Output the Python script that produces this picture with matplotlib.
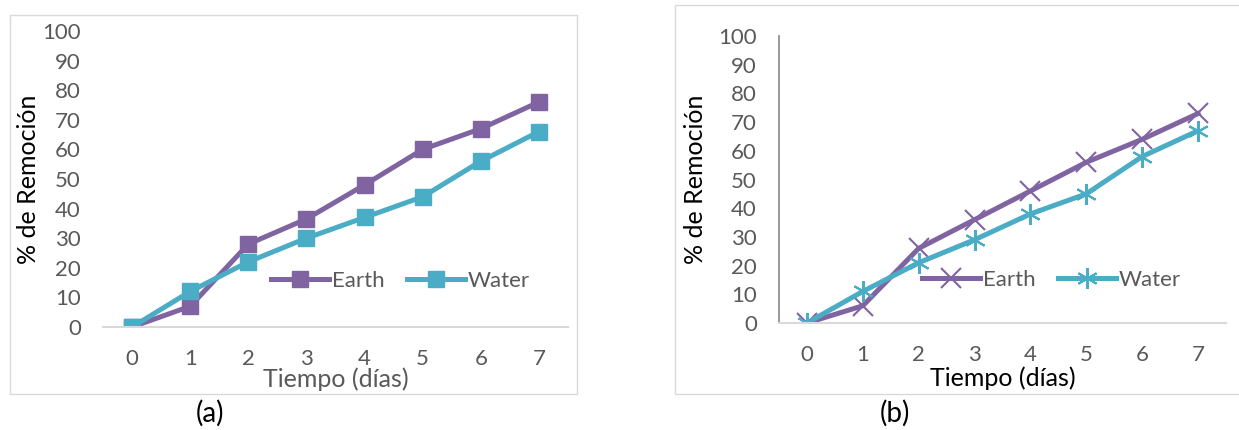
import matplotlib.pyplot as plt
from matplotlib.patches import Rectangle

plt.rcParams['font.family'] = ['Lato', 'DejaVu Sans']

dias = [0, 1, 2, 3, 4, 5, 6, 7]
y_ticks = list(range(0, 101, 10))

# panel (a)
earth_a = [0, 7, 28, 36.5, 48, 60, 67, 76]
water_a = [0, 12, 22, 30, 37, 44, 56, 66]
# panel (b)
earth_b = [0, 6, 26, 36, 46, 56, 64, 73]
water_b = [0, 11, 21, 29, 38, 45, 58, 67]

PURPLE = '#8064A2'
TEAL = '#4BACC6'
GRAY_TXT = '#595959'

fig = plt.figure(figsize=(12.39, 4.30), dpi=100)
W, H = 1239, 430


def px_box(x0, y0, x1, y1):
    return [x0 / W, 1 - y1 / H, (x1 - x0) / W, (y1 - y0) / H]


# light frames round each chart
fig.patches.append(Rectangle((10 / W, 1 - 394 / H), 567 / W, 379 / H,
                             transform=fig.transFigure, fill=False,
                             edgecolor='#d9d9d9', lw=1))
fig.patches.append(Rectangle((675 / W, 1 - 394 / H), 600 / W, 389 / H,
                             transform=fig.transFigure, fill=False,
                             edgecolor='#d9d9d9', lw=1))


def style_axes(ax, left_spine, xlabel_color, ylab_x, xlab_y):
    ax.set_xlim(-0.5, 7.5)
    ax.set_ylim(0, 100)
    ax.set_xticks(dias)
    ax.set_yticks(y_ticks)
    for s in ['top', 'right']:
        ax.spines[s].set_visible(False)
    ax.spines['bottom'].set_color('#d9d9d9')
    ax.spines['bottom'].set_linewidth(1.5)
    if left_spine:
        ax.spines['left'].set_color('#868686')
        ax.spines['left'].set_linewidth(1.2)
    else:
        ax.spines['left'].set_visible(False)
    ax.tick_params(axis='both', length=0, labelsize=16, labelcolor=GRAY_TXT)
    ax.tick_params(axis='y', pad=16)
    ax.tick_params(axis='x', pad=16)
    ax.set_ylabel('% de Remoción', fontsize=18, color='black')
    ax.set_xlabel('Tiempo (días)', fontsize=18, color=xlabel_color)
    ax.yaxis.set_label_coords(ylab_x, 0.5)
    ax.xaxis.set_label_coords(0.5, xlab_y)
    ax.patch.set_alpha(0)


def add_legend(ax, x, y):
    leg = ax.legend(loc='center', bbox_to_anchor=(x, y), ncol=2, frameon=False,
                    fontsize=16, handlelength=2.6, columnspacing=1.0,
                    handletextpad=0.15)
    for t in leg.get_texts():
        t.set_color(GRAY_TXT)


ax1 = fig.add_axes(px_box(103, 31, 568, 327))
ax1.plot(dias, earth_a, color=PURPLE, lw=3.6, marker='s', ms=11, label='Earth')
ax1.plot(dias, water_a, color=TEAL, lw=3.6, marker='s', ms=11, label='Water')
style_axes(ax1, False, GRAY_TXT, -0.135, -0.135)
add_legend(ax1, 0.64, 0.155)

ax2 = fig.add_axes(px_box(779, 36, 1226, 323))
ax2.plot(dias, earth_b, color=PURPLE, lw=3.6, marker='x', ms=14, mew=1.5, label='Earth')
ax2.plot(dias, water_b, color=TEAL, lw=3.6, marker=(6, 2, 0), ms=15, mew=1.5, label='Water')
style_axes(ax2, True, 'black', -0.16, -0.15)
add_legend(ax2, 0.61, 0.15)

fig.text(210 / W, 1 - 413 / H, '(a)', fontsize=20, ha='center', va='center')
fig.text(895 / W, 1 - 413 / H, '(b)', fontsize=20, ha='center', va='center')

fig.savefig('out.png', dpi=100)
